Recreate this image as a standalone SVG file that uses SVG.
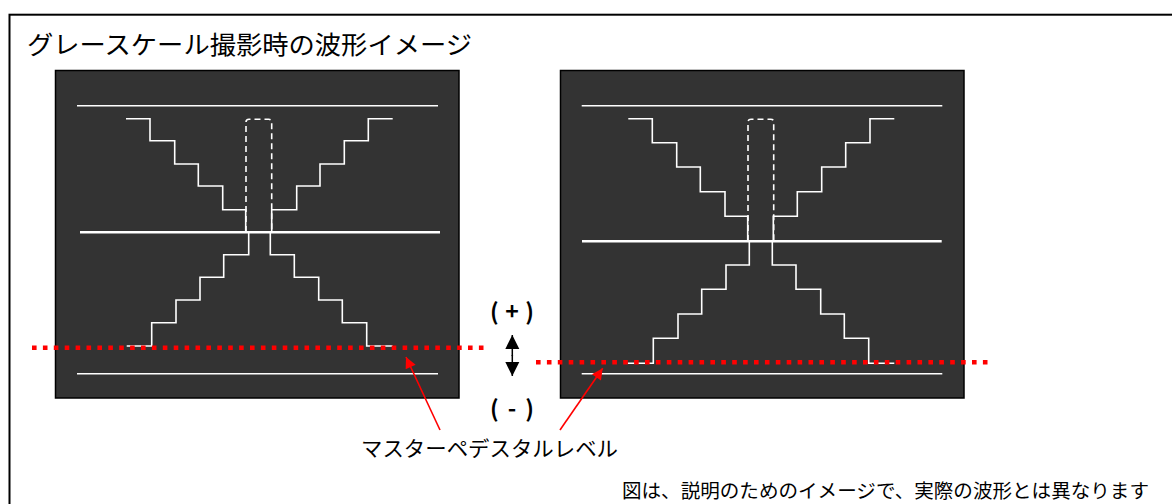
<svg xmlns="http://www.w3.org/2000/svg" width="1172" height="504" viewBox="0 0 1172 504">
<defs>
<style>
.txt{font-family:"Noto Sans CJK JP","Noto Sans",sans-serif;fill:#000}
.panel{fill:#333333;stroke:#000;stroke-width:1.5}
.w{fill:none;stroke:#fff;stroke-width:1.6}
.wm{fill:none;stroke:#fff;stroke-width:2.6}
.wd{fill:none;stroke:#fff;stroke-width:1.6;stroke-dasharray:6 4}
.red{fill:none;stroke:#ff0000;stroke-width:4.6;stroke-dasharray:4.6 6.3}
.ra{fill:none;stroke:#ff0000;stroke-width:1.6}
.pm{font-size:23px;font-weight:bold}
</style>
<marker id="rh" viewBox="0 0 10 10" refX="10" refY="5" markerWidth="16" markerHeight="11" markerUnits="userSpaceOnUse" orient="auto">
<path d="M0,0 L10,5 L0,10 z" fill="#ff0000"/>
</marker>
<marker id="bh" viewBox="0 0 10 10" refX="10" refY="5" markerWidth="14" markerHeight="15" markerUnits="userSpaceOnUse" orient="auto">
<path d="M0,0 L10,5 L0,10 z" fill="#000"/>
</marker>
</defs>
<rect x="0" y="0" width="1172" height="504" fill="#fff"/>
<rect id="frame" x="9.5" y="14.7" width="1200" height="520" fill="none" stroke="#000" stroke-width="2"/>
<text class="txt" x="27" y="54" font-size="25" textLength="445" lengthAdjust="spacingAndGlyphs">グレースケール撮影時の波形イメージ</text>

<g id="panel-left">
<rect class="panel" x="55.5" y="70.5" width="403.5" height="327.5"/>
<line class="w" x1="77" y1="105.7" x2="438" y2="105.7"/>
<line class="wm" x1="80" y1="232.3" x2="440" y2="232.3"/>
<line class="w" x1="77" y1="373.7" x2="438" y2="373.7"/>
<path class="w" d="M126,118.7 H150 V140.7 H174.7 V164 H198.3 V186 H222.7 V209.7 H245.7 V232.3"/>
<path class="w" d="M392.7,118.7 H368.3 V140.7 H344.3 V164 H320 V186 H296.7 V209.7 H271.7 V232.3"/>
<path class="wd" d="M246,232 V122 Q246,119.3 249,119.3 H268.7 Q271.7,119.3 271.7,122 V232"/>
<path class="w" d="M248.7,232.3 V254.7 H223.7 V277.3 H200 V300 H176 V322.7 H151.7 V346 H126.7"/>
<path class="w" d="M270.3,232.3 V254.7 H294.3 V277.3 H318.7 V300 H342.3 V322.7 H366.7 V346 H392.7"/>
</g>

<g id="panel-right">
<rect class="panel" x="560.5" y="70.5" width="403.5" height="327.5"/>
<line class="w" x1="581.7" y1="105.7" x2="942.3" y2="105.7"/>
<line class="wm" x1="582" y1="241.3" x2="941.7" y2="241.3"/>
<line class="w" x1="581.7" y1="373.7" x2="942.3" y2="373.7"/>
<path class="w" d="M628.3,118.7 H652.3 V142.7 H676.7 V167 H700.3 V191.7 H725 V216.3 H747.7 V241.3"/>
<path class="w" d="M894.3,118.7 H870 V142.7 H845.7 V167 H821.7 V191.7 H797.3 V216.3 H773.3 V241.3"/>
<path class="wd" d="M748,241 V122 Q748,119.3 751,119.3 H770.7 Q773.7,119.3 773.7,122 V241"/>
<path class="w" d="M749.3,241.3 V265 H726 V289.3 H701.7 V314 H678 V338.3 H653.3 V363.3 H627.7"/>
<path class="w" d="M772.3,241.3 V265 H796 V289.3 H820.7 V314 H844.3 V338.3 H868.7 V363.3 H894.3"/>
</g>

<g id="connectors">
<line class="red" x1="32" y1="347.7" x2="486" y2="347.7"/>
<line class="red" x1="536" y1="362.3" x2="992" y2="362.3"/>
<line class="ra" x1="440" y1="430" x2="406" y2="357" marker-end="url(#rh)"/>
<line class="ra" x1="560" y1="430" x2="602.7" y2="368.3" marker-end="url(#rh)"/>
<line x1="512.3" y1="356" x2="512.3" y2="335" stroke="#000" stroke-width="1.5" marker-end="url(#bh)"/>
<line x1="512.3" y1="355" x2="512.3" y2="376" stroke="#000" stroke-width="1.5" marker-end="url(#bh)"/>
</g>

<g id="labels">
<text class="txt pm" x="490" y="320" textLength="44" lengthAdjust="spacing" xml:space="preserve">( + )</text>
<text class="txt pm" x="490" y="417" textLength="44" lengthAdjust="spacing" xml:space="preserve">( - )</text>
<text class="txt" x="361" y="456" font-size="21" textLength="257" lengthAdjust="spacingAndGlyphs">マスターペデスタルレベル</text>
<text class="txt" x="622" y="498" font-size="19" textLength="527" lengthAdjust="spacingAndGlyphs">図は、説明のためのイメージで、実際の波形とは異なります</text>
</g>
</svg>
